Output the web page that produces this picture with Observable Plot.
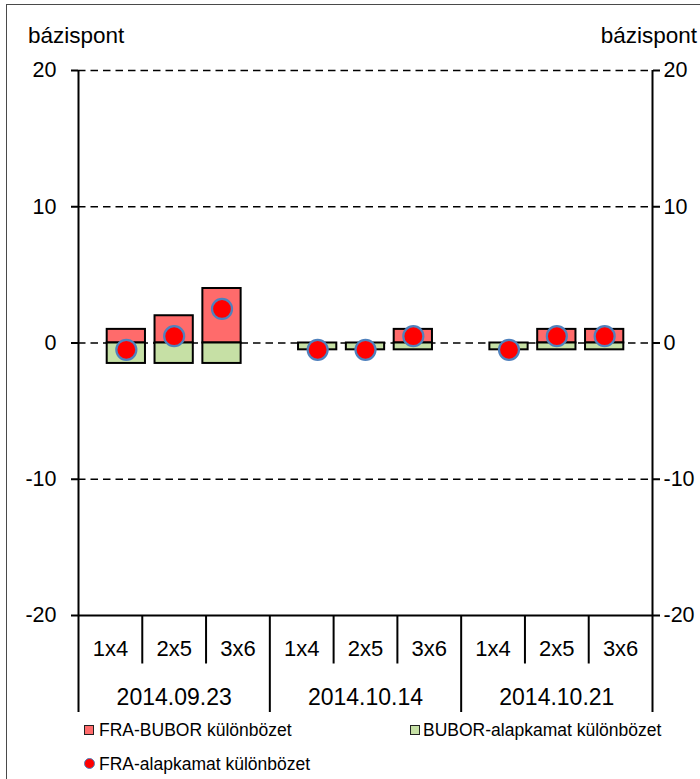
<!DOCTYPE html>
<html>
<head>
<meta charset="utf-8">
<script src="https://cdn.jsdelivr.net/npm/d3@7"></script>
<script src="https://cdn.jsdelivr.net/npm/@observablehq/plot@0.6"></script>
<style>
  html, body { margin: 0; padding: 0; background: white; }
  #wrap { position: relative; width: 700px; height: 779px; overflow: hidden; font-family: "Liberation Sans", sans-serif; color: black; background: white; }
  #border { position: absolute; left: 6px; top: 4px; width: 900px; height: 900px; border: 1.5px solid #4a4a4a; box-sizing: border-box; z-index: 5; pointer-events: none; }
  .abs { position: absolute; white-space: nowrap; }
  .unit { font-size: 22.5px; line-height: 24px; top: 24px; }
  .leg { font-size: 17.5px; line-height: 20px; }
  .sq { position: absolute; width: 10px; height: 10px; border: 1px solid #222; box-sizing: border-box; }
  .dotleg { position: absolute; width: 11px; height: 11px; border-radius: 50%; background: #ff0000; border: 1.5px solid #4f81bd; box-sizing: border-box; }
  svg { position: absolute; left: 0; }
</style>
</head>
<body>
<div id="wrap">
  <div id="border"></div>
</div>
<script>
// ---- data ----
const dates = ["2014.09.23", "2014.10.14", "2014.10.21"];
const tenors = ["1x4", "2x5", "3x6"];
const fraBubor  = [1, 2, 4,   0, 0, 1,   0, 1, 1];           // FRA-BUBOR különbözet
const buborAlap = [-1.5, -1.5, -1.5,   -0.5, -0.5, -0.5,   -0.5, -0.5, -0.5]; // BUBOR-alapkamat különbözet
const fraAlap   = [-0.5, 0.5, 2.5,   -0.5, -0.5, 0.5,   -0.5, 0.5, 0.5];      // FRA-alapkamat különbözet
const yTicks = [-20, -10, 0, 10, 20];
const seriesNames = ["FRA-BUBOR különbözet", "BUBOR-alapkamat különbözet", "FRA-alapkamat különbözet"];
const unitLabel = "bázispont";
const colors = { red: "#ff6b6b", green: "#c6e0a5", dot: "#ff0000", dotStroke: "#4f81bd" };
const FONT = "Liberation Sans";

// ---- derived table ----
const rows = dates.flatMap((d, g) => tenors.map((t, k) => {
  const i = g * tenors.length + k;
  return { date: d, tenor: t, i, slot: g * (tenors.length + 1) + k + 1, red: fraBubor[i], green: buborAlap[i], dot: fraAlap[i] };
}));
const nSlots = dates.length * (tenors.length + 1);
const halfW = 0.4;

const wrap = document.getElementById("wrap");
const fmt = d => String(d);

const main = Plot.plot({
  width: 700, height: 630,
  marginTop: 70, marginBottom: 15, marginLeft: 78, marginRight: 48,
  style: { fontFamily: FONT, fontSize: "21px", background: "transparent", color: "black", overflow: "visible" },
  x: { domain: [0, nSlots], axis: null },
  y: { domain: [yTicks[0], yTicks[yTicks.length - 1]], axis: null },
  marks: [
    Plot.ruleY(yTicks.filter(v => v > yTicks[0]), { stroke: "black", strokeWidth: 1.6, strokeDasharray: "7.5,5" }),
    Plot.rect(rows.filter(r => r.red !== 0), { x1: r => r.slot - halfW, x2: r => r.slot + halfW, y1: r => 0, y2: "red", fill: colors.red, stroke: "black", strokeWidth: 2 }),
    Plot.rect(rows.filter(r => r.green !== 0), { x1: r => r.slot - halfW, x2: r => r.slot + halfW, y1: r => 0, y2: "green", fill: colors.green, stroke: "black", strokeWidth: 2 }),
    Plot.ruleY([yTicks[0]], { stroke: "black", strokeWidth: 2 }),
    Plot.ruleX([0, nSlots], { stroke: "black", strokeWidth: 2 }),
    Plot.axisY(yTicks, { anchor: "left", tickSize: 7, tickPadding: 15, tickFormat: fmt, fontSize: 21.5, strokeWidth: 2 }),
    Plot.axisY(yTicks, { anchor: "right", tickSize: 7, tickPadding: 4, tickFormat: fmt, fontSize: 21.5, strokeWidth: 2 }),
    Plot.dot(rows, { x: "slot", y: "dot", r: 10, fill: colors.dot, stroke: colors.dotStroke, strokeWidth: 2.2 })
  ]
});
main.style.top = "0px";
wrap.appendChild(main);

// ---- category table below the plot ----
const seps = d3.range(rows.length + 1);
const table = Plot.plot({
  width: 700, height: 100,
  marginTop: 0, marginBottom: 3, marginLeft: 78, marginRight: 48,
  style: { fontFamily: FONT, fontSize: "22px", background: "transparent", color: "black", overflow: "visible" },
  x: { domain: [0, rows.length], axis: null },
  y: { domain: [0, 2], reverse: true, axis: null },
  marks: [
    Plot.ruleX(seps, { x: d => d, y1: d => 0, y2: d => (d % tenors.length === 0 ? 2 : 1), stroke: "black", strokeWidth: 2 }),
    Plot.text(rows, { x: r => r.i + 0.5, y: r => 0.5, text: "tenor", dy: 9, fontSize: 22, fill: "black" }),
    Plot.text(dates, { x: (d, g) => g * tenors.length + tenors.length / 2, y: d => 1.5, text: d => d, dy: 9, fontSize: 23, fill: "black" })
  ]
});
table.style.top = "615px";
wrap.appendChild(table);

// ---- unit labels ----
function addDiv(cls, text, left, top, extra) {
  const el = document.createElement("div");
  el.className = "abs " + cls;
  el.textContent = text;
  if (left != null) el.style.left = left + "px";
  if (top != null) el.style.top = top + "px";
  if (extra) Object.assign(el.style, extra);
  wrap.appendChild(el);
  return el;
}
addDiv("unit", unitLabel, 28, null);
addDiv("unit", unitLabel, null, null, { right: "3px" });

// ---- legend ----
const sq1 = document.createElement("div"); sq1.className = "sq";
Object.assign(sq1.style, { left: "84px", top: "725px", background: colors.red }); wrap.appendChild(sq1);
addDiv("leg", seriesNames[0], 99, 720);
const sq2 = document.createElement("div"); sq2.className = "sq";
Object.assign(sq2.style, { left: "410px", top: "725px", background: colors.green }); wrap.appendChild(sq2);
addDiv("leg", seriesNames[1], 423, 720);
const dl = document.createElement("div"); dl.className = "dotleg";
Object.assign(dl.style, { left: "84px", top: "758px" }); wrap.appendChild(dl);
addDiv("leg", seriesNames[2], 99, 754);
</script>
</body>
</html>
